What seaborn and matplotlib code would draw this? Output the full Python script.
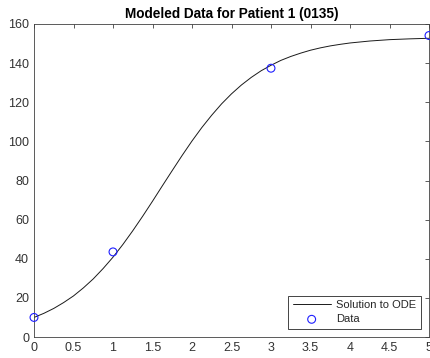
import matplotlib
matplotlib.use("Agg")
import matplotlib.pyplot as plt
import seaborn as sns
import pandas as pd

# Model curve
t_model = [0, 0.125, 0.25, 0.375, 0.5, 0.625, 0.75, 0.875, 1.0, 1.125, 1.25, 1.375,
           1.5, 1.625, 1.75, 1.875, 2.0, 2.125, 2.25, 2.375, 2.5, 2.625, 2.75, 2.875,
           3.0, 3.125, 3.25, 3.375, 3.5, 3.625, 3.75, 3.875, 4.0, 4.25, 4.5, 4.75, 5.0]
y_model = [10.0, 12.1, 14.6, 17.6, 21.0, 25.1, 29.7, 35.0, 40.8, 47.3, 54.3, 61.7,
           69.4, 77.3, 85.1, 92.8, 100.2, 107.1, 113.4, 119.2, 124.3, 128.8, 132.7, 136.1,
           138.9, 141.4, 143.4, 145.1, 146.6, 147.8, 148.8, 149.6, 150.3, 151.3, 152.0, 152.4, 152.7]

# Observed data
t_data = [0, 1, 3, 5]
y_data = [10, 43.5, 137.4, 154.1]

xticks = [0, 0.5, 1, 1.5, 2, 2.5, 3, 3.5, 4, 4.5, 5]
xticklabels = ["0", "0.5", "1", "1.5", "2", "2.5", "3", "3.5", "4", "4.5", "5"]
yticks = [0, 20, 40, 60, 80, 100, 120, 140, 160]

sns.set_theme(style="white")
plt.rcParams['font.family'] = ['Liberation Sans', 'DejaVu Sans']

df_model = pd.DataFrame({"t": t_model, "y": y_model})
df_data = pd.DataFrame({"t": t_data, "y": y_data})

fig = plt.figure(figsize=(4.31, 3.58), dpi=100)
ax = fig.add_axes([34 / 431, 21 / 358, 395 / 431, 313 / 358])

sns.lineplot(data=df_model, x="t", y="y", ax=ax, color="#1a1a1a", linewidth=0.7,
             label="Solution to ODE")
sns.scatterplot(data=df_data, x="t", y="y", ax=ax, marker="o", s=32,
                facecolor="none", edgecolor="#1f1fff", linewidth=0.8,
                label="Data", clip_on=False, zorder=5)

ax.set_xlim(0, 5)
ax.set_ylim(0, 160)
ax.set_xticks(xticks)
ax.set_xticklabels(xticklabels)
ax.set_yticks(yticks)
ax.set_xlabel("")
ax.set_ylabel("")
ax.set_title("Modeled Data for Patient 1 (0135)", fontsize=9.8, fontweight="bold",
             color="black", pad=4)

for s in ax.spines.values():
    s.set_color("#404040")
    s.set_linewidth(0.6)
    s.set_visible(True)
ax.tick_params(axis="both", direction="in", length=2.8, width=0.6, color="#404040",
               labelsize=9, labelcolor="#333333", top=True, right=True, pad=3.5)

leg = ax.legend(loc="lower right", fontsize=8, frameon=True, fancybox=False,
                edgecolor="#262626", handlelength=3.4, borderpad=0.4,
                labelspacing=0.35, handletextpad=0.5, borderaxespad=0.75)
leg.get_frame().set_linewidth(0.6)
leg.get_frame().set_alpha(1)

fig.savefig("out.png", dpi=100)
